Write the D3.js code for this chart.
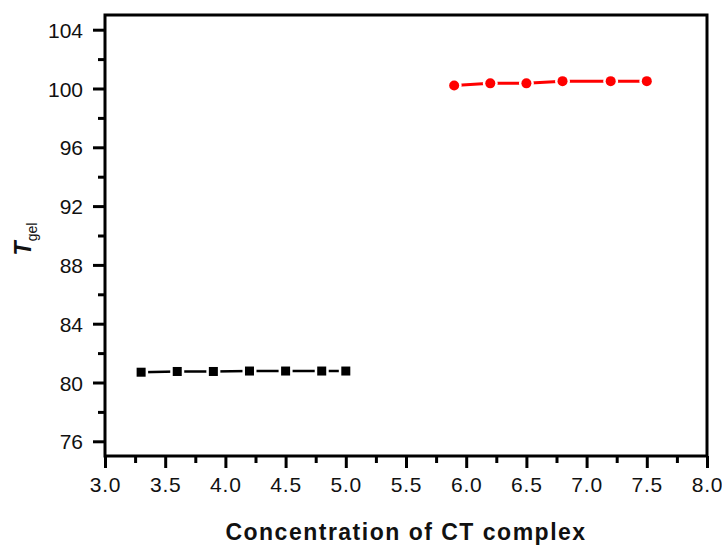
<!DOCTYPE html>
<html><head><meta charset="utf-8">
<script src="https://cdn.jsdelivr.net/npm/d3@7"></script>
<style>body{margin:0;background:#fff}svg{display:block}</style>
</head><body>
<script>
const blackX = [3.3, 3.6, 3.9, 4.2, 4.5, 4.8, 5.0];
const blackY = [80.7, 80.75, 80.75, 80.78, 80.78, 80.78, 80.78];
const redX = [5.9, 6.2, 6.5, 6.8, 7.2, 7.5];
const redY = [100.2, 100.35, 100.35, 100.5, 100.5, 100.5];
const xTicks = [3.0, 3.5, 4.0, 4.5, 5.0, 5.5, 6.0, 6.5, 7.0, 7.5, 8.0];
const yTicks = [76, 80, 84, 88, 92, 96, 100, 104];

const W = 722, H = 547;
const L = 105, R = 707, T = 15, B = 456;
const svg = d3.select("body").append("svg").attr("width", W).attr("height", H);
const x = d3.scaleLinear().domain([3.0, 8.0]).range([L, R]);
const y = d3.scaleLinear().domain([75.0, 105.0]).range([B, T]);

const font = "'Liberation Sans', Arial, sans-serif";

// frame
svg.append("rect").attr("x", L).attr("y", T).attr("width", R - L).attr("height", B - T)
  .attr("fill", "none").attr("stroke", "#000").attr("stroke-width", 3);

// minor ticks
const xMinor = d3.range(3.25, 8.0, 0.5);
const yMinor = d3.range(78, 105, 4);
svg.append("g").attr("transform", `translate(0,${B})`)
  .call(d3.axisBottom(x).tickValues(xMinor).tickSize(7).tickFormat(""))
  .call(g => g.select(".domain").remove())
  .call(g => g.selectAll("line").attr("stroke-width", 3));
svg.append("g").attr("transform", `translate(${L},0)`)
  .call(d3.axisLeft(y).tickValues(yMinor).tickSize(7).tickFormat(""))
  .call(g => g.select(".domain").remove())
  .call(g => g.selectAll("line").attr("stroke-width", 3));

// major ticks
svg.append("g").attr("transform", `translate(0,${B})`)
  .call(d3.axisBottom(x).tickValues(xTicks).tickSize(12).tickPadding(0).tickFormat(d3.format(".1f")))
  .call(g => g.select(".domain").remove())
  .call(g => g.selectAll("line").attr("stroke-width", 3))
  .call(g => g.selectAll("text").attr("font-family", font).attr("font-size", 21)
    .attr("letter-spacing", 0.8).attr("fill", "#111")
    .attr("y", 36).attr("dy", 0));
svg.append("g").attr("transform", `translate(${L},0)`)
  .call(d3.axisLeft(y).tickValues(yTicks).tickSize(12).tickPadding(10).tickFormat(d3.format("d")))
  .call(g => g.select(".domain").remove())
  .call(g => g.selectAll("line").attr("stroke-width", 3))
  .call(g => g.selectAll("text").attr("font-family", font).attr("font-size", 21).attr("fill", "#111")
    .attr("dy", "0.36em"));

// lines
const line = d3.line().x(d => x(d[0])).y(d => y(d[1]));
const blackData = blackX.map((v, i) => [v, blackY[i]]);
const redData = redX.map((v, i) => [v, redY[i]]);
svg.append("path").datum(blackData).attr("d", line).attr("fill", "none")
  .attr("stroke", "#000").attr("stroke-width", 2.5);
svg.append("path").datum(redData).attr("d", line).attr("fill", "none")
  .attr("stroke", "#f00").attr("stroke-width", 3);

// markers with white halo for Origin-style gaps
svg.append("g").selectAll("rect").data(blackData).join("rect")
  .attr("x", d => x(d[0]) - 4.5).attr("y", d => y(d[1]) - 4.5)
  .attr("width", 9).attr("height", 9)
  .attr("fill", "#000").attr("stroke", "#fff").attr("stroke-width", 5).attr("paint-order", "stroke");
svg.append("g").selectAll("circle").data(redData).join("circle")
  .attr("cx", d => x(d[0])).attr("cy", d => y(d[1])).attr("r", 5)
  .attr("fill", "#f00").attr("stroke", "#fff").attr("stroke-width", 5).attr("paint-order", "stroke");

// axis titles
svg.append("text").attr("x", (L + R) / 2).attr("y", 540).attr("text-anchor", "middle")
  .attr("font-family", font).attr("font-size", 23).attr("font-weight", "bold")
  .attr("letter-spacing", 1.5).attr("fill", "#111")
  .text("Concentration of CT complex");

const yt = svg.append("text").attr("transform", "translate(31,239) rotate(-90)")
  .attr("text-anchor", "middle").attr("font-family", font).attr("fill", "#111");
yt.append("tspan").attr("font-size", 23).attr("font-style", "italic").attr("font-weight", "bold").text("T");
yt.append("tspan").attr("font-size", 14).attr("dy", 6).text("gel");
</script>
</body></html>
